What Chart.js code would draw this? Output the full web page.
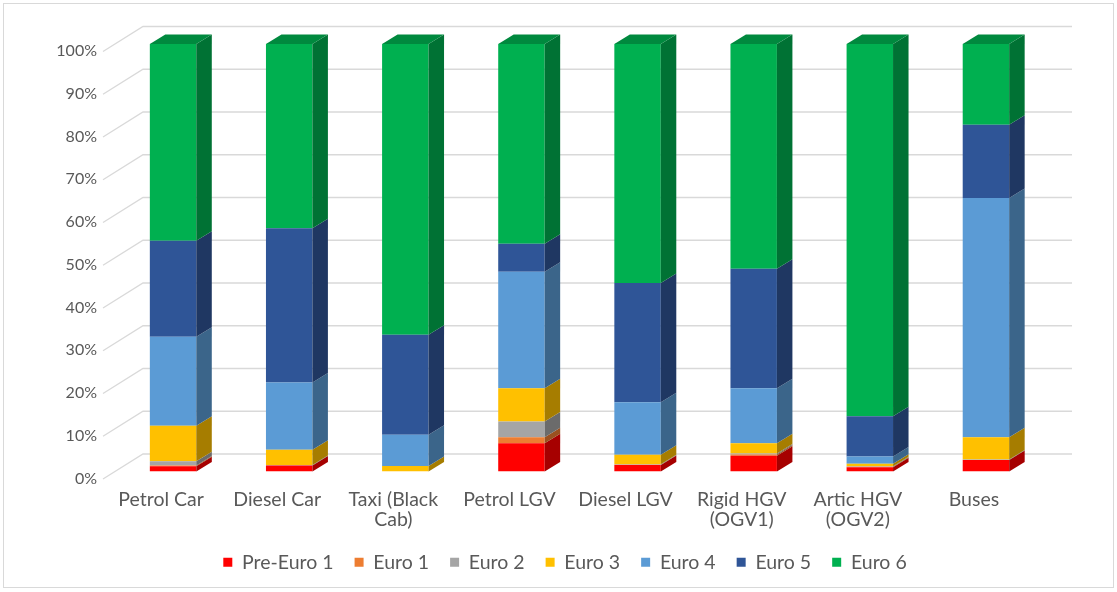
<!DOCTYPE html>
<html>
<head>
<meta charset="utf-8">
<script src="https://cdn.jsdelivr.net/npm/chart.js@4/dist/chart.umd.min.js"></script>
<style>
  body { margin: 0; background: #fff; }
  #wrap { position: relative; width: 1117px; height: 592px; }
  #frame { position: absolute; left: 3px; top: 3px; width: 1109px; height: 583px; border: 1px solid #d9d9d9; pointer-events: none; }
</style>
</head>
<body>
<div id="wrap">
  <canvas id="chart" width="1117" height="592"></canvas>
  <div id="frame"></div>
</div>
<script>
const categories = ['Petrol Car', 'Diesel Car', ['Taxi (Black', 'Cab)'], 'Petrol LGV', 'Diesel LGV',
  ['Rigid HGV', '(OGV1)'], ['Artic HGV', '(OGV2)'], 'Buses'];

const preEuro1 = [1.2, 1.4, 0.0, 6.6, 1.5, 3.7, 1.0, 2.7];
const euro1    = [0.2, 0.0, 0.0, 1.4, 0.1, 0.3, 0.1, 0.0];
const euro2    = [1.0, 0.1, 0.0, 3.7, 0.1, 0.2, 0.1, 0.1];
const euro3    = [8.3, 3.6, 1.3, 7.8, 2.2, 2.4, 0.6, 5.2];
const euro4    = [20.8, 15.7, 7.3, 27.2, 12.3, 12.9, 1.7, 56.0];
const euro5    = [22.5, 36.1, 23.4, 6.6, 27.9, 27.9, 9.4, 17.1];
const euro6    = [46.0, 43.1, 68.0, 46.7, 55.9, 52.6, 87.1, 18.9];

const yTicks = [0, 10, 20, 30, 40, 50, 60, 70, 80, 90, 100];

const FONT = 'Lato, "Open Sans", sans-serif';
const TEXT = '#595959';

// 3d look: bar depth and floor depth
const depthX = 15.5, depthY = -9.5;
const floorFront = [-12, 7.5], floorBack = [28, -17.5];

function shade(hex, f) {
  const n = parseInt(hex.slice(1), 16);
  const r = Math.round(((n >> 16) & 255) * f);
  const g = Math.round(((n >> 8) & 255) * f);
  const b = Math.round((n & 255) * f);
  return 'rgb(' + r + ',' + g + ',' + b + ')';
}

const bar3d = {
  id: 'bar3d',
  beforeDatasetsDraw(chart) {
    const { ctx, chartArea, scales: { y } } = chart;
    ctx.save();
    ctx.strokeStyle = '#d9d9d9';
    ctx.lineWidth = 1.3;
    y.ticks.forEach(t => {
      const py = y.getPixelForValue(t.value);
      ctx.beginPath();
      ctx.moveTo(chartArea.left + floorFront[0], py + floorFront[1]);
      ctx.lineTo(chartArea.left + floorBack[0], py + floorBack[1]);
      ctx.lineTo(chartArea.right + floorBack[0], py + floorBack[1]);
      ctx.stroke();
    });
    ctx.restore();
  },
  afterDatasetsDraw(chart) {
    const { ctx } = chart;
    const tops = [];
    ctx.save();
    chart.data.datasets.forEach((ds, di) => {
      const meta = chart.getDatasetMeta(di);
      const side = shade(ds.backgroundColor, 0.65);
      meta.data.forEach((bar, i) => {
        const { x, y, base, width } = bar.getProps(['x', 'y', 'base', 'width'], true);
        if (Math.abs(base - y) < 0.01) return;
        const r = x + width / 2;
        ctx.fillStyle = side;
        ctx.beginPath();
        ctx.moveTo(r, y);
        ctx.lineTo(r + depthX, y + depthY);
        ctx.lineTo(r + depthX, base + depthY);
        ctx.lineTo(r, base);
        ctx.closePath();
        ctx.fill();
        tops[i] = { x, y, width, color: ds.backgroundColor };
      });
    });
    tops.forEach(t => {
      if (!t) return;
      const l = t.x - t.width / 2, r = t.x + t.width / 2;
      ctx.fillStyle = shade(t.color, 0.78);
      ctx.beginPath();
      ctx.moveTo(l, t.y);
      ctx.lineTo(l + depthX, t.y + depthY);
      ctx.lineTo(r + depthX, t.y + depthY);
      ctx.lineTo(r, t.y);
      ctx.closePath();
      ctx.fill();
    });
    ctx.restore();
  }
};

const series = [
  ['Pre-Euro 1', preEuro1, '#FF0000'],
  ['Euro 1', euro1, '#ED7D31'],
  ['Euro 2', euro2, '#A5A5A5'],
  ['Euro 3', euro3, '#FFC000'],
  ['Euro 4', euro4, '#5B9BD5'],
  ['Euro 5', euro5, '#2F5597'],
  ['Euro 6', euro6, '#00B050']
];

new Chart(document.getElementById('chart'), {
  type: 'bar',
  data: {
    labels: categories,
    datasets: series.map(s => ({
      label: s[0],
      data: s[1],
      backgroundColor: s[2],
      borderWidth: 0,
      barPercentage: 0.4,
      categoryPercentage: 1
    }))
  },
  options: {
    responsive: false,
    animation: false,
    layout: { padding: { left: 13, right: 0, top: 44, bottom: 10 } },
    plugins: {
      legend: {
        position: 'bottom',
        labels: {
          boxWidth: 9, boxHeight: 9, padding: 21,
          color: TEXT,
          font: { family: FONT, size: 19.5 }
        }
      },
      tooltip: { enabled: false }
    },
    scales: {
      x: {
        stacked: true,
        grid: { display: false, drawTicks: false },
        border: { display: false },
        ticks: {
          color: TEXT, padding: 18, labelOffset: -12, maxRotation: 0, autoSkip: false,
          font: { family: FONT, size: 19.5, lineHeight: 1.05 }
        },
        afterFit(scale) { scale.height = 60; }
      },
      y: {
        stacked: true,
        min: 0, max: 100,
        grid: { display: false, drawTicks: false },
        border: { display: false },
        afterBuildTicks(scale) { scale.ticks = yTicks.map(v => ({ value: v })); },
        ticks: {
          color: TEXT, padding: 18, labelOffset: 7,
          font: { family: FONT, size: 16 },
          callback: v => v + '%'
        },
        afterFit(scale) { scale.width = 102; }
      },
      // empty right-hand axis, only reserves the space right of the back wall
      yRight: {
        position: 'right',
        grid: { display: false, drawTicks: false },
        border: { display: false },
        ticks: { display: false },
        afterFit(scale) { scale.width = 73; }
      }
    }
  },
  plugins: [bar3d]
});
</script>
</body>
</html>
